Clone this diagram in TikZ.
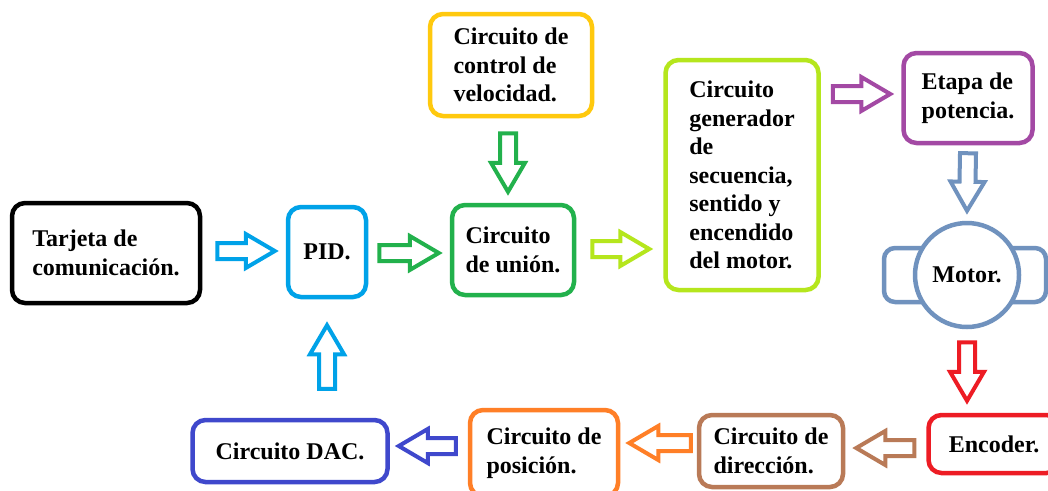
\documentclass[tikz,border=0pt]{standalone}
\usepackage{fontspec}
\setmainfont{Liberation Serif}
\usetikzlibrary{calc}
\definecolor{cBlack}{HTML}{000000}
\definecolor{cCyan}{HTML}{00A2E8}
\definecolor{cGreen}{HTML}{22B14C}
\definecolor{cGold}{HTML}{FFC90E}
\definecolor{cLime}{HTML}{B5E61D}
\definecolor{cPurple}{HTML}{A349A4}
\definecolor{cSteel}{HTML}{7092BE}
\definecolor{cRed}{HTML}{ED1C24}
\definecolor{cBrown}{HTML}{B97A57}
\definecolor{cOrange}{HTML}{FF7F27}
\definecolor{cIndigo}{HTML}{3F48CC}
\tikzset{
  box/.style={draw, line width=4.5pt, rounded corners=13pt, align=left,
    font=\fontsize{24}{28.5}\selectfont\bfseries, inner sep=0pt, fill=white},
  blk/.style={draw, line width=4pt, line join=miter, fill=white},
  motorline/.style={draw=cSteel, line width=4.5pt, fill=white},
}
\newcommand\barrow[3]{%
  \draw[blk,#1] let \p1=(#2), \p2=(#3),
    \n1={atan2(\y2-\y1,\x2-\x1)}, \n2={veclen(\x2-\x1,\y2-\y1)} in
    [shift={(\p1)}, rotate=\n1]
    (0,-8) -- ({\n2-29},-8) -- ({\n2-29},-17) -- ({\n2},0) --
    ({\n2-29},17) -- ({\n2-29},8) -- (0,8) -- cycle;}
\begin{document}
\begin{tikzpicture}[x=1pt,y=-1pt]
\clip (0,0) rectangle (1048,490);
\fill[white] (0,0) rectangle (1048,490);
% boxes
\node[box, draw=cBlack, minimum width=188, minimum height=100] (tarjeta) at (106,253) {Tarjeta de\\comunicación.};
\node[box, draw=cCyan, minimum width=78, minimum height=90] (pid) at (327,252) {PID.};
\node[box, draw=cGreen, minimum width=122, minimum height=90] (union) at (513,250) {Circuito\\de unión.};
\node[box, draw=cGold, minimum width=162, minimum height=102] (control) at (511,65) {Circuito de\\control de\\velocidad.};
\node[box, draw=cLime, minimum width=153, minimum height=230] (gen) at (742,175) {Circuito\\generador\\de\\secuencia,\\sentido y\\encendido\\del motor.};
\node[box, draw=cPurple, minimum width=129, minimum height=90] (etapa) at (968,98) {Etapa de\\potencia.};
\coordinate (mc) at (967,275);
\draw[motorline, rounded corners=11pt] ($(mc)+(-83,-27)$) rectangle ($(mc)+(-30,27)$);
\draw[motorline, rounded corners=11pt] ($(mc)+(30,-27)$) rectangle ($(mc)+(79,27)$);
\node[circle, motorline, minimum size=104, inner sep=0pt, font=\fontsize{24}{28}\selectfont\bfseries] (motor) at (mc) {Motor.};
\node[box, draw=cRed, minimum width=131, minimum height=58] (encoder) at (994,444) {Encoder.};
\node[box, draw=cBrown, minimum width=144, minimum height=72] (direccion) at (771,451) {Circuito de\\dirección.};
\node[box, draw=cOrange, minimum width=148, minimum height=86] (posicion) at (544,453) {Circuito de\\posición.};
\node[box, draw=cIndigo, minimum width=195, minimum height=62] (dac) at (290,451) {Circuito DAC.};
% block arrows
\barrow{draw=cCyan}{$(tarjeta.east)+(15,-2)$}{$(pid.west)+(-11,-1)$}
\barrow{draw=cGreen}{$(pid.east)+(11,1)$}{$(union.west)+(-11,3)$}
\barrow{draw=cGreen}{$(control.south)+(-3,15)$}{$(union.north -| control.south)+(-3,-11)$}
\barrow{draw=cLime}{$(union.east)+(16,-1)$}{$(union.east -| gen.west)+(-14,-1)$}
\barrow{draw=cPurple}{$(etapa.west -| gen.east)+(12,-4)$}{$(etapa.west)+(-11,-4)$}
\barrow{draw=cSteel}{$(etapa.south)+(0,8)$}{$(motor.north)+(0,-10)$}
\barrow{draw=cRed}{$(motor.south)+(0,13)$}{$(motor.south |- encoder.north)+(0,-12)$}
\barrow{draw=cBrown}{$(encoder.west)+(-12,4)$}{$(encoder.west -| direccion.east)+(11,4)$}
\barrow{draw=cOrange}{$(direccion.west)+(-6,-8)$}{$(direccion.west -| posicion.east)+(9,-8)$}
\barrow{draw=cIndigo}{$(posicion.west)+(-12,-7)$}{$(posicion.west -| dac.east)+(9,-7)$}
\barrow{draw=cCyan}{$(pid.south |- dac.north)+(0,-29)$}{$(pid.south)+(0,26)$}
\end{tikzpicture}
\end{document}
